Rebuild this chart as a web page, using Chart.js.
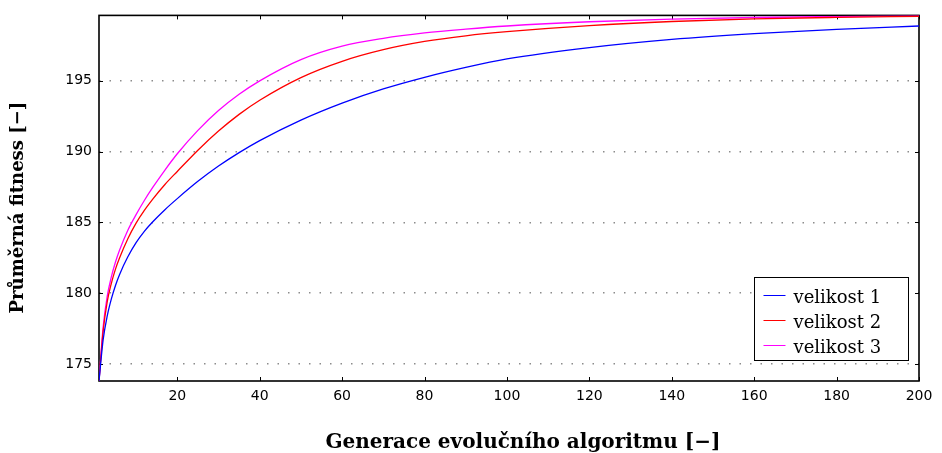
<!DOCTYPE html>
<html>
<head>
<meta charset="utf-8">
<script src="https://cdn.jsdelivr.net/npm/chart.js@4.4.0/dist/chart.umd.min.js"></script>
<style>
  html, body { margin: 0; padding: 0; background: #fff; }
  #wrap { width: 942px; height: 453px; position: relative; }
</style>
</head>
<body>
<div id="wrap"><canvas id="fitnessChart"></canvas></div>
<script>
  // hodnoty
  const generations = [1, 2, 3, 4, 5, 6, 8, 10, 12, 14, 17, 20, 25, 30, 35, 40, 50, 60, 70, 80, 90, 100, 120, 140, 160, 180, 200];
  const velikost1 = [173.8, 176.7, 178.4, 179.6, 180.55, 181.33, 182.57, 183.57, 184.37, 185.03, 185.9, 186.68, 187.9, 188.98, 189.93, 190.78, 192.23, 193.43, 194.43, 195.25, 195.95, 196.55, 197.35, 197.93, 198.34, 198.64, 198.87];
  const velikost2 = [173.8, 177.3, 179.4, 180.7, 181.7, 182.5, 183.85, 184.95, 185.85, 186.63, 187.68, 188.6, 190.1, 191.45, 192.63, 193.63, 195.23, 196.38, 197.2, 197.78, 198.18, 198.47, 198.9, 199.19, 199.37, 199.48, 199.56];
  const velikost3 = [173.8, 177.6, 179.8, 181.15, 182.2, 183.05, 184.45, 185.55, 186.55, 187.45, 188.7, 189.85, 191.5, 192.9, 194.05, 195.0, 196.5, 197.45, 198.0, 198.38, 198.65, 198.87, 199.17, 199.36, 199.47, 199.54, 199.6];
  const seriesLabels = ['velikost 1', 'velikost 2', 'velikost 3'];
  const seriesColors = ['#0000ff', '#ff0000', '#ff00ff'];
  const xTicks = [20, 40, 60, 80, 100, 120, 140, 160, 180, 200];
  const yTicks = [175, 180, 185, 190, 195];

  const toPoints = vals => generations.map((g, i) => ({ x: g, y: vals[i] }));

  // ramecek, vnitrni carky os a legenda (styl MATLAB)
  const framePlugin = {
    id: 'frame',
    beforeDatasetsDraw(chart) {
      const { ctx, chartArea: a, scales } = chart;
      ctx.save();
      ctx.strokeStyle = '#000';
      ctx.lineWidth = 1;
      ctx.beginPath();
      xTicks.forEach(v => {
        const px = Math.round(scales.x.getPixelForValue(v)) + 0.5;
        ctx.moveTo(px, a.bottom); ctx.lineTo(px, a.bottom - 4);
        ctx.moveTo(px, a.top); ctx.lineTo(px, a.top + 4);
      });
      yTicks.forEach(v => {
        const py = Math.round(scales.y.getPixelForValue(v)) + 0.5;
        ctx.moveTo(a.left, py); ctx.lineTo(a.left + 4, py);
        ctx.moveTo(a.right, py); ctx.lineTo(a.right - 4, py);
      });
      ctx.stroke();
      ctx.lineWidth = 1.6;
      ctx.strokeRect(a.left, a.top, a.right - a.left, a.bottom - a.top);
      ctx.restore();
    },
    afterDraw(chart) {
      const { ctx, chartArea: a } = chart;
      const boxW = 154, boxH = 83;
      const bx = a.right - 11 - boxW + 0.5, by = a.bottom - 104 + 0.5;
      ctx.save();
      ctx.fillStyle = '#fff';
      ctx.fillRect(bx, by, boxW, boxH);
      ctx.strokeStyle = '#000';
      ctx.lineWidth = 1;
      ctx.strokeRect(bx, by, boxW, boxH);
      ctx.font = '18px "DejaVu Serif"';
      ctx.textBaseline = 'alphabetic';
      ctx.fillStyle = '#000';
      chart.data.datasets.forEach((ds, i) => {
        const rowY = by + 18 + i * 25;
        ctx.strokeStyle = ds.borderColor;
        ctx.beginPath();
        ctx.moveTo(bx + 9, rowY);
        ctx.lineTo(bx + 31, rowY);
        ctx.stroke();
        ctx.fillText(ds.label, bx + 39, rowY + 7);
      });
      ctx.restore();
    }
  };

  const ctx = document.getElementById('fitnessChart');
  new Chart(ctx, {
    type: 'line',
    data: {
      datasets: [velikost1, velikost2, velikost3].map((vals, i) => ({
        label: seriesLabels[i],
        data: toPoints(vals),
        borderColor: seriesColors[i],
        backgroundColor: seriesColors[i],
        borderWidth: 1.3,
        pointRadius: 0,
        fill: false,
        cubicInterpolationMode: 'monotone'
      }))
    },
    options: {
      responsive: true,
      maintainAspectRatio: false,
      animation: false,
      layout: { padding: { top: 13, right: 23, left: 0, bottom: 0 } },
      plugins: {
        legend: { display: false },
        tooltip: { enabled: false }
      },
      scales: {
        x: {
          type: 'linear',
          min: 1,
          max: 200,
          afterBuildTicks: s => { s.ticks = xTicks.map(v => ({ value: v })); },
          afterFit: s => { s.height = 72; },
          grid: { display: false, drawTicks: false },
          border: { display: false },
          ticks: {
            color: '#000',
            padding: 7,
            maxRotation: 0,
            font: { family: '"DejaVu Sans"', size: 14 }
          },
          title: {
            display: true,
            text: '\u00a0\u00a0\u00a0\u00a0Generace evolučního algoritmu [−]',
            color: '#000',
            padding: { top: 0, bottom: 0 },
            font: { family: '"DejaVu Serif"', size: 20, weight: 'bold', lineHeight: 1 }
          }
        },
        y: {
          min: 173.8,
          max: 199.62,
          afterBuildTicks: s => { s.ticks = yTicks.map(v => ({ value: v })); },
          afterFit: s => { s.width = 99; },
          grid: {
            drawTicks: false,
            color: '#8c8c8c',
            lineWidth: 1.5
          },
          border: { display: false, dash: [1.5, 9] },
          ticks: {
            color: '#000',
            padding: 7,
            font: { family: '"DejaVu Sans"', size: 14 }
          },
          title: {
            display: true,
            text: 'Průměrná fitness [−]\u00a0\u00a0\u00a0',
            color: '#000',
            padding: { top: 9.5, bottom: 0 },
            font: { family: '"DejaVu Serif"', size: 18, weight: 'bold', lineHeight: 1 }
          }
        }
      }
    },
    plugins: [framePlugin]
  });
</script>
</body>
</html>
